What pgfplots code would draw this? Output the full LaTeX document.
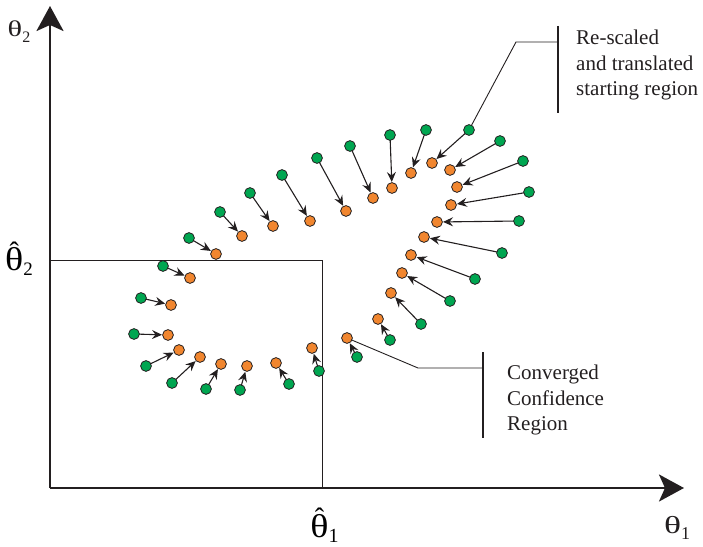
\documentclass[border=0pt]{standalone}
\usepackage{fontspec}
\setmainfont{Liberation Serif}
\usepackage{pgfplots}
\usepackage{pgfplotstable}
\pgfplotsset{compat=1.18}
\usetikzlibrary{arrows.meta}

\definecolor{ptgreen}{RGB}{0,166,81}
\definecolor{ptorange}{RGB}{241,134,47}
\definecolor{ink}{RGB}{35,31,32}

% a rounder theta, widened by #1
\newcommand{\wth}[1]{\scalebox{#1}[1]{θ}}
% theta with a circumflex over it
\newcommand{\hatth}{\ooalign{\wth{1.15}\cr\hidewidth\raisebox{0.28em}{\scalebox{0.85}{ˆ}}\hidewidth\cr}}
% lowered subscript: #1 drop, #2 size, #3 text
\newcommand{\lowsub}[3]{\raisebox{-#1}{\fontsize{#2}{#2}\selectfont #3}}

% start point (gx,gy) of each search and the point it converged to (ox,oy)
\pgfplotstableread{
gx  gy  ox  oy
134 212 168 211
141 248 171 241
163 280 190 268
189 308 216 292
220 334 242 310
250 353 273 320
282 371 310 325
317 388 346 335
350 400 373 348
390 411 392 358
426 416 411 373
469 416 432 383
500 405 450 376
523 385 457 359
529 354 451 341
519 325 437 324
502 293 424 309
475 267 411 291
450 245 402 273
421 222 391 253
390 206 378 227
357 189 347 208
319 175 312 198
289 162 276 183
240 156 247 180
206 157 221 182
172 163 200 189
146 180 179 196
}\regiondata

\begin{document}
\begin{tikzpicture}
\begin{axis}[
  scale only axis,
  width=634pt, height=482pt,
  xmin=50, xmax=684, ymin=58, ymax=540,
  axis lines*=left,
  axis line style={draw=ink, line width=2.6pt,
    -{Stealth[length=25pt,width=27pt,inset=6pt]}},
  clip=false,
  xtick={322}, ytick={286},
  xticklabels={{\fontsize{33}{33}\selectfont\hatth\lowsub{5pt}{20pt}{1}}},
  yticklabels={{\fontsize{33}{33}\selectfont\hatth\lowsub{5pt}{19pt}{2}}},
  major tick length=0pt,
  xticklabel style={anchor=base, inner sep=0pt, yshift=-49pt, xshift=2.5pt},
  yticklabel style={anchor=base east, inner sep=0pt, xshift=-17pt, yshift=-11pt},
]
% frame of the canvas
\path (axis cs:0,0) rectangle (axis cs:703,546);

% lines marking the estimate
\addplot[ink, line width=0.9pt] coordinates {(50,286) (322,286) (322,58)};

% callout lines
\addplot[ink, line width=0.9pt] coordinates {(469,416) (516,504) (558,504)};
\addplot[ink, line width=1.1pt] coordinates {(558,520) (558,433)};
\addplot[ink, line width=0.9pt] coordinates {(347,208) (418,178) (483,178)};
\addplot[ink, line width=1.1pt] coordinates {(483,194) (483,108)};

% paths from start to converged point
\addplot[ink, line width=1.1pt,
  quiver={u=\thisrow{ox}-\thisrow{gx}, v=\thisrow{oy}-\thisrow{gy}},
  -{Stealth[length=10pt,width=9pt,inset=3.5pt]}, shorten >=6pt]
  table[x=gx, y=gy] {\regiondata};

% start points and converged points
\addplot[only marks, mark=*, mark size=5.4pt,
  mark options={fill=ptgreen, draw=ink, line width=0.8pt}]
  table[x=gx, y=gy] {\regiondata};
\addplot[only marks, mark=*, mark size=5.4pt,
  mark options={fill=ptorange, draw=ink, line width=0.8pt}]
  table[x=ox, y=oy] {\regiondata};

% axis names
\node[anchor=base, inner sep=0pt, ink] at (axis cs:677,13)
  {\fontsize{24.5}{24.5}\selectfont \wth{1.45}\lowsub{6pt}{18pt}{1}};
\node[anchor=base, inner sep=0pt, ink] at (axis cs:19,509)
  {\fontsize{22.5}{22.5}\selectfont \wth{1.35}\lowsub{6pt}{16pt}{2}};

% callout texts
\begin{scope}[every node/.style={anchor=base west, inner sep=0pt, text=ink, font=\fontsize{21}{21}\selectfont}]
\node at (axis cs:576,501) {Re-scaled};
\node at (axis cs:576,475.5) {and translated};
\node at (axis cs:576,450) {starting region};
\node at (axis cs:507,167) {Converged};
\node at (axis cs:507,141) {Confidence};
\node at (axis cs:507,116) {Region};
\end{scope}
\end{axis}
\end{tikzpicture}
\end{document}
